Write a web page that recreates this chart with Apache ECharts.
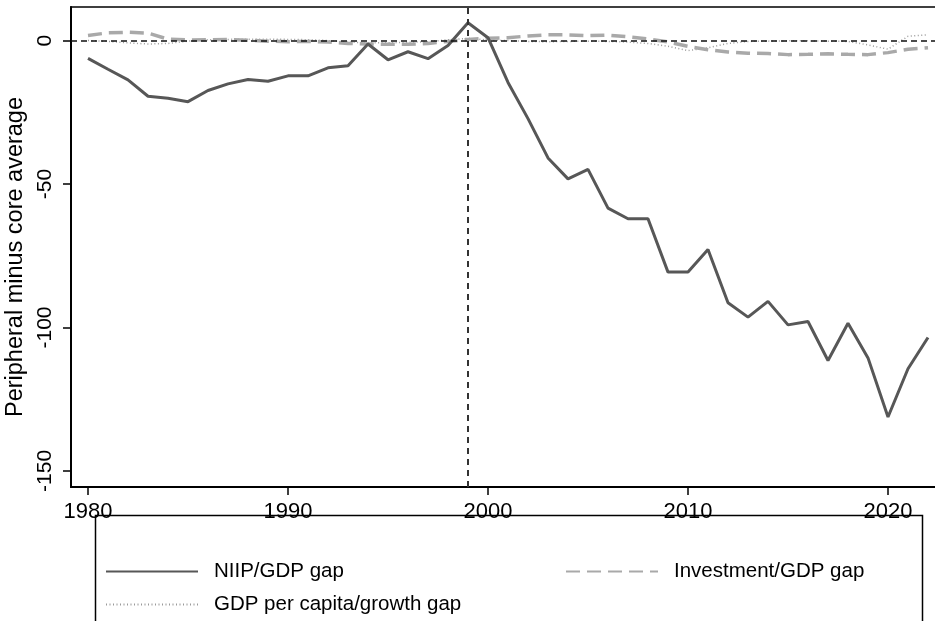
<!DOCTYPE html>
<html>
<head>
<meta charset="utf-8">
<script src="https://cdn.jsdelivr.net/npm/echarts@6/dist/echarts.min.js"></script>
<style>
  html, body { margin: 0; padding: 0; background: #fff; }
  #chart { width: 935px; height: 621px; }
</style>
</head>
<body>
<div id="chart"></div>
<script>
// Years covered by the series
const years = [1980,1981,1982,1983,1984,1985,1986,1987,1988,1989,1990,1991,1992,1993,1994,1995,1996,1997,1998,1999,2000,2001,2002,2003,2004,2005,2006,2007,2008,2009,2010,2011,2012,2013,2014,2015,2016,2017,2018,2019,2020,2021,2022];

// Peripheral minus core average, percentage points
const niipGap = [-6.2,-10.0,-13.7,-19.4,-20.1,-21.3,-17.4,-15.1,-13.6,-14.2,-12.3,-12.3,-9.5,-8.8,-1.2,-6.7,-3.9,-6.3,-1.7,6.2,1.0,-14.6,-27.2,-40.9,-48.2,-44.9,-58.4,-62.1,-62.1,-80.7,-80.7,-72.8,-91.4,-96.4,-90.9,-99.1,-97.9,-111.5,-98.5,-110.6,-131.2,-114.4,-103.5];
const investmentGap = [1.8,2.7,2.9,2.6,0.5,0.2,0.3,0.4,0.1,-0.2,-0.4,-0.3,-0.5,-1.0,-1.2,-1.3,-1.3,-1.0,-0.3,0.4,0.8,1.0,1.6,2.0,2.0,1.7,1.9,1.3,0.6,-0.5,-2.0,-3.2,-4.0,-4.4,-4.5,-4.9,-4.8,-4.6,-4.8,-4.9,-4.2,-3.0,-2.5];
const gdpGap = [0.0,-0.3,-0.8,-1.2,-1.0,-0.2,0.3,0.4,0.5,0.5,0.4,0.3,0.0,-0.5,-0.8,-0.8,-0.6,-0.4,0.3,0.8,0.2,0.0,-0.3,-0.4,-0.3,-0.2,-0.3,-0.5,-1.0,-2.0,-3.5,-2.5,-1.0,-0.3,-0.2,-0.1,-0.1,-0.2,-0.3,-1.5,-3.0,1.5,2.0];

// Axis ticks and reference lines
const xTicks = [1980, 1990, 2000, 2010, 2020];
const yTicks = [0, -50, -100, -150];
const euroYear = 1999;

const seriesNames = ['NIIP/GDP gap', 'Investment/GDP gap', 'GDP per capita/growth gap'];

const pairs = (vals) => years.map((y, i) => [y, vals[i]]);
const FONT = 'Liberation Sans, Arial, sans-serif';

const chart = echarts.init(document.getElementById('chart'), null, { renderer: 'canvas' });

chart.setOption({
  backgroundColor: '#fff',
  animation: false,
  grid: {
    left: 71, top: 7, right: -5, bottom: 134,
    outerBoundsMode: 'none', containLabel: false,
    show: true, borderColor: '#000', borderWidth: 1.5, backgroundColor: 'transparent'
  },
  xAxis: {
    type: 'value',
    min: 1979.15, max: 2022.6,
    axisLine: { show: true, onZero: false, lineStyle: { color: '#000', width: 2 } },
    axisTick: { show: true, length: 8, customValues: xTicks, lineStyle: { color: '#000', width: 1.5 } },
    axisLabel: {
      customValues: xTicks, color: '#000', fontFamily: FONT, fontSize: 22, margin: 14,
      formatter: (v) => String(v)
    },
    splitLine: { show: false }
  },
  yAxis: {
    type: 'value',
    min: -155.6, max: 11.7,
    name: 'Peripheral minus core average',
    nameLocation: 'middle', nameGap: 40,
    nameTextStyle: { color: '#000', fontFamily: FONT, fontSize: 23.5, padding: [0, 20, 0, 0] },
    axisLine: { show: true, onZero: false, lineStyle: { color: '#000', width: 2 } },
    axisTick: { show: true, length: 8, customValues: yTicks, lineStyle: { color: '#000', width: 1.5 } },
    axisLabel: {
      customValues: yTicks, rotate: 90, color: '#000', fontFamily: FONT, fontSize: 21, margin: 15,
      formatter: (v) => String(v)
    },
    splitLine: { show: false }
  },
  legend: [
    { data: [seriesNames[0]], left: 105, top: 561 },
    { data: [seriesNames[1]], left: 565, top: 561 },
    { data: [seriesNames[2]], left: 105, top: 594 }
  ].map(l => Object.assign({
    orient: 'horizontal', itemWidth: 92, itemHeight: 14, padding: 0,
    itemStyle: { opacity: 0 },
    textStyle: { color: '#000', fontFamily: FONT, fontSize: 20.5, padding: [0, 0, 0, 11] }
  }, l)),
  graphic: [{
    type: 'rect', z: 100,
    shape: { x: 95.5, y: 515.5, width: 827, height: 160 },
    style: { fill: 'none', stroke: '#000', lineWidth: 1.5 }
  }],
  series: [
    {
      name: seriesNames[0], type: 'line', data: pairs(niipGap),
      symbol: 'none', z: 4,
      lineStyle: { color: '#575757', width: 3 },
      itemStyle: { color: '#575757' },
      markLine: {
        silent: true, symbol: 'none', label: { show: false },
        data: [
          { xAxis: euroYear, lineStyle: { color: '#333', width: 2, type: [6, 5] } },
          { yAxis: 0, lineStyle: { color: '#111', width: 1.5, type: [6, 4] } }
        ]
      }
    },
    {
      name: seriesNames[1], type: 'line', data: pairs(investmentGap),
      symbol: 'none', z: 3,
      lineStyle: { color: '#a9a9a9', width: 3.5, type: [14, 7] },
      itemStyle: { color: '#a9a9a9' }
    },
    {
      name: seriesNames[2], type: 'line', data: pairs(gdpGap),
      symbol: 'none', z: 2,
      lineStyle: { color: '#9a9a9a', width: 1.5, type: [1, 2.5] },
      itemStyle: { color: '#9a9a9a' }
    }
  ]
});
</script>
</body>
</html>
